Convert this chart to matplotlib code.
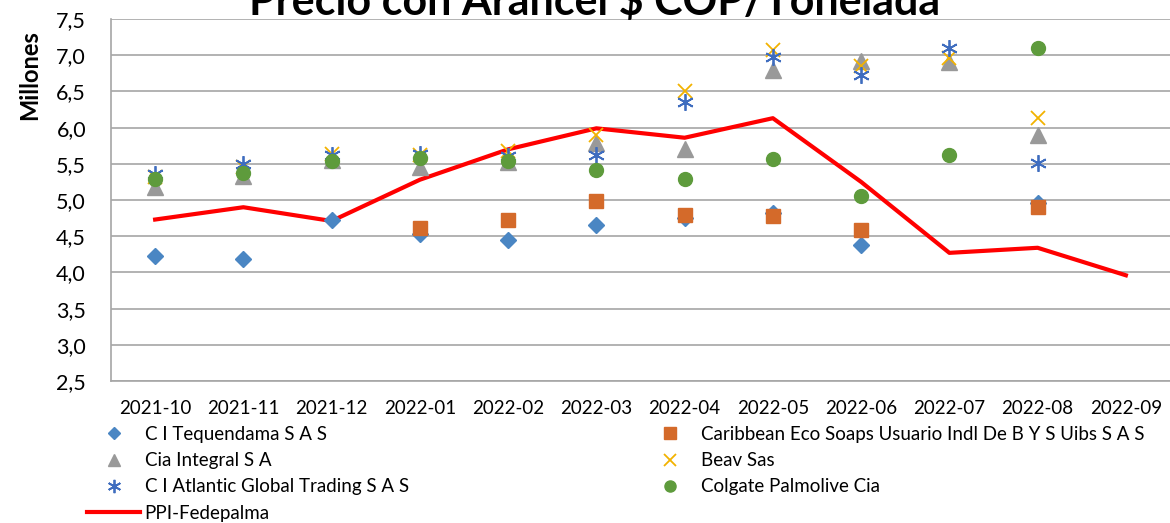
import matplotlib.pyplot as plt
from matplotlib.ticker import FuncFormatter

meses = ["2021-10", "2021-11", "2021-12", "2022-01", "2022-02", "2022-03",
         "2022-04", "2022-05", "2022-06", "2022-07", "2022-08", "2022-09"]

nan = float("nan")
tequendama = [4.23, 4.18, 4.72, 4.53, 4.45, 4.66, 4.75, 4.82, 4.38, nan, 4.96, nan]
caribbean = [nan, nan, nan, 4.62, 4.72, 4.98, 4.79, 4.78, 4.58, nan, 4.91, nan]
cia_integral = [5.18, 5.33, 5.55, 5.45, 5.52, 5.79, 5.70, 6.79, 6.92, 6.90, 5.90, nan]
beav = [5.32, 5.45, 5.64, 5.62, 5.67, 5.90, 6.50, 7.07, 6.85, 6.96, 6.13, nan]
atlantic = [5.36, 5.50, 5.62, 5.64, 5.61, 5.62, 6.36, 6.97, 6.72, 7.10, 5.51, nan]
colgate = [5.29, 5.37, 5.54, 5.58, 5.54, 5.42, 5.29, 5.56, 5.05, 5.62, 7.10, nan]
ppi = [4.73, 4.90, 4.71, 5.28, 5.70, 5.99, 5.86, 6.13, 5.25, 4.27, 4.34, 3.96]

plt.rcParams["font.family"] = ["Lato", "DejaVu Sans"]
fs = 13.5

fig = plt.figure(figsize=(11.7, 5.23), dpi=100)
ax = fig.add_axes([111 / 1170, 1 - 381 / 523, 1 - 111 / 1170, (381 - 19) / 523])

x = list(range(len(meses)))
ax.plot(x, ppi, color="#FF0000", lw=3, label="PPI-Fedepalma", zorder=2)
ax.plot(x, tequendama, ls="none", marker="D", ms=8, color="#4A86C3",
        label="C I Tequendama S A S", zorder=3)
ax.plot(x, caribbean, ls="none", marker="s", ms=10, color="#D46A2A",
        label="Caribbean Eco Soaps Usuario Indl De B Y S Uibs S A S", zorder=3)
ax.plot(x, cia_integral, ls="none", marker="^", ms=11, color="#999999",
        label="Cia Integral S A", zorder=3)
ax.plot(x, beav, ls="none", marker="x", ms=10, mew=1.3, color="#F2B200",
        label="Beav Sas", zorder=3)
ax.plot(x, atlantic, ls="none", marker=(6, 2, 0), ms=12, mew=1.3, color="#3F6DBF",
        label="C I Atlantic Global Trading S A S", zorder=3)
ax.plot(x, colgate, ls="none", marker="o", ms=10, color="#5E9B3C",
        label="Colgate Palmolive Cia", zorder=3)

ax.set_xlim(-0.5, 11.5)
ax.set_ylim(2.5, 7.5)
ax.set_yticks([2.5 + 0.5 * i for i in range(11)])
ax.yaxis.set_major_formatter(FuncFormatter(lambda v, p: f"{v:.1f}".replace(".", ",")))
ax.set_xticks(x)
ax.set_xticklabels(meses)
ax.tick_params(axis="both", length=0)
ax.tick_params(axis="x", pad=14, labelsize=fs)
ax.tick_params(axis="y", pad=18, labelsize=15.5)
ax.grid(axis="y", color="#A6A6A6", lw=1.2)
ax.set_axisbelow(True)
for s in ["top", "right"]:
    ax.spines[s].set_visible(False)
for s in ["left", "bottom"]:
    ax.spines[s].set_color("#A6A6A6")
    ax.spines[s].set_linewidth(1.2)

fig.text(0.508, 1 - 15 / 523, "Precio con Arancel $ COP/Tonelada", ha="center",
         va="baseline", fontsize=31, fontweight="bold")
fig.text(30 / 1170, 1 - 75 / 523, "Millones", rotation=90, ha="center", va="center",
         fontsize=17, fontweight="bold")

h, l = ax.get_legend_handles_labels()
orden = [1, 3, 5, 0, 2, 4, 6]
fig.legend([h[i] for i in orden], [l[i] for i in orden], ncol=2, frameon=False,
           loc="upper left", bbox_to_anchor=(87 / 1170, 1 - 426 / 523),
           borderaxespad=0, borderpad=0, fontsize=fs, handlelength=2.83,
           handletextpad=0.25, labelspacing=0.49, columnspacing=12.5,
           markerscale=0.8)

fig.savefig("out.png", dpi=100)
